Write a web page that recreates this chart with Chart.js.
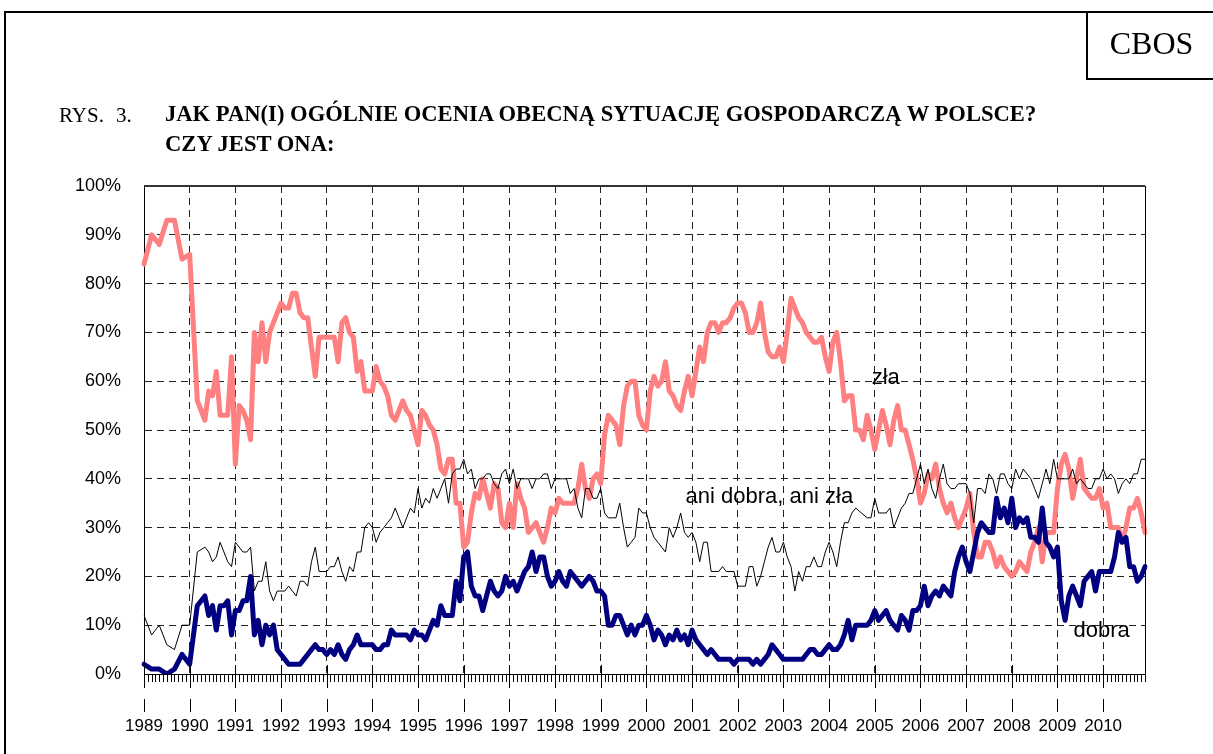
<!DOCTYPE html>
<html>
<head>
<meta charset="utf-8">
<script src="https://cdn.jsdelivr.net/npm/chart.js@4.4.0/dist/chart.umd.min.js"></script>
<style>
  html, body { margin: 0; padding: 0; background: #fff; overflow: hidden; }
  #page { position: relative; width: 1213px; height: 754px; overflow: hidden; }
  #frame { position: absolute; left: 4px; top: 11px; width: 1300px; height: 900px; border: 2px solid #000; }
  #cbos { position: absolute; left: 1086px; top: 11px; width: 200px; height: 67px;
          border-left: 2px solid #000; border-bottom: 2px solid #000; }
  #cbos span { position: absolute; left: 0; width: 127px; top: 14px; text-align: center;
               font: 32px "Liberation Serif", "Times New Roman", serif; }
  .t { position: absolute; font-family: "Liberation Serif", "Times New Roman", serif; font-size: 21px; white-space: nowrap; }
  .b { font-weight: bold; font-size: 22.6px; }
  #wrap { position: absolute; left: 0; top: 0; width: 1213px; height: 754px; }
</style>
</head>
<body>
<div id="page">
  <div id="wrap"><canvas id="chart"></canvas></div>
  <div id="frame"></div>
  <div id="cbos"><span>CBOS</span></div>
  <div class="t" style="left:59px; top:103px;">RYS.</div>
  <div class="t" style="left:116px; top:103px;">3.</div>
  <div class="t b" style="left:165px; top:101px;">JAK PAN(I) OGÓLNIE OCENIA OBECNĄ SYTUACJĘ GOSPODARCZĄ W POLSCE?</div>
  <div class="t b" style="left:165px; top:131px;">CZY JEST ONA:</div>
</div>
<script>
// monthly survey readings, Jan 1989 - Dec 2010 (months without a survey = null)
const years = [1989, 1990, 1991, 1992, 1993, 1994, 1995, 1996, 1997, 1998, 1999,
               2000, 2001, 2002, 2003, 2004, 2005, 2006, 2007, 2008, 2009, 2010];
const months = years.flatMap(yr => ['01','02','03','04','05','06','07','08','09','10','11','12'].map(m => yr + '-' + m));

const zla = [
  84, null, 90, null, 88, null, 93, null, 93, null, 85, null,
  86, null, 56, null, 52, 58, 57, 62, 53, 53, 53, 65,
  43, 55, 54, 52, 48, 70, 64, 72, 64, 70, 72, 74,
  76, 75, 75, 78, 78, 74, 73, 73, 67, 61, 69, 69,
  69, 69, 69, 64, 72, 73, 70, 69, 62, 64, 58, 58,
  58, 63, 60, 59, 57, 53, 52, 54, 56, 54, 53, 50,
  47, 54, 53, 51, 50, 47, 42, 41, 44, 44, 35, 35,
  26, 27, 33, 37, 36, 40, 37, 34, 39, 38, 31, 30,
  35, 30, 39, 36, 34, 29, 30, 31, 29, 27, 30, 34,
  33, 36, 35, 35, 35, 35, 38, 43, 38, 36, 40, 41,
  39, 49, 53, 52, 51, 47, 55, 59, 60, 60, 53, 51,
  50, 58, 61, 59, 60, 64, 58, 57, 55, 54, 58, 61,
  57, 62, 67, 64, 70, 72, 72, 70, 72, 72, 73, 75,
  76, 76, 74, 70, 70, 72, 76, 70, 66, 65, 65, 67,
  64, 70, 77, 75, 73, 72, 70, 69, 68, 68, 69, 65,
  62, 68, 70, 64, 56, 57, 57, 50, 50, 48, 53, 50,
  46, 50, 54, 51, 47, 52, 55, 50, 50, 47, 44, 40,
  35, 37, 41, 40, 43, 38, 35, 33, 35, 32, 30, 32,
  34, 37, 29, 24, 24, 27, 27, 25, 22, 24, 22, 21,
  20, 21, 23, 22, 21, 25, 27, 30, 23, 29, 29, 29,
  38, 43, 45, 42, 36, 40, 44, 38, 37, 36, 36, 38,
  34, 35, 30, 30, 30, 27, 30, 34, 34, 36, 33, 29
];

const dobra = [
  2, null, 1, null, 1, null, 0, null, 1, null, 4, null,
  2, null, 14, null, 16, 12, 14, 9, 14, 14, 15, 8,
  13, 13, 15, 15, 20, 8, 11, 6, 10, 8, 10, 5,
  4, 3, 2, 2, 2, 2, 3, 4, 5, 6, 5, 5,
  4, 5, 4, 6, 4, 3, 5, 6, 8, 6, 6, 6,
  6, 5, 5, 6, 6, 9, 8, 8, 8, 8, 7, 9,
  8, 8, 7, 9, 11, 10, 14, 12, 12, 12, 19, 15,
  24, 25, 18, 16, 16, 13, 16, 19, 17, 16, 17, 20,
  18, 19, 17, 19, 21, 22, 25, 21, 24, 24, 20, 18,
  19, 21, 19, 18, 21, 20, 19, 18, 19, 20, 19, 17,
  17, 16, 10, 10, 12, 12, 10, 8, 10, 8, 10, 10,
  12, 10, 7, 9, 8, 6, 8, 7, 9, 7, 8, 6,
  9, 7, 6, 5, 4, 5, 4, 3, 3, 3, 3, 2,
  3, 3, 3, 3, 2, 3, 2, 3, 4, 6, 5, 4,
  3, 3, 3, 3, 3, 3, 4, 5, 5, 4, 4, 5,
  6, 5, 5, 6, 8, 11, 7, 10, 10, 10, 10, 11,
  13, 11, 12, 13, 11, 10, 9, 12, 11, 9, 13, 13,
  14, 18, 14, 16, 17, 16, 18, 17, 16, 21, 24, 26,
  23, 21, 25, 29, 31, 30, 29, 29, 36, 32, 34, 31,
  36, 30, 32, 31, 32, 28, 28, 27, 34, 27, 26, 24,
  26, 15, 11, 16, 18, 16, 14, 19, 20, 21, 17, 21,
  21, 21, 21, 24, 29, 27, 28, 22, 22, 19, 20, 22
];

const ani = [
  12, null, 8, null, 10, null, 6, null, 5, null, 10, null,
  10, null, 25, null, 26, 25, 23, 24, 27, 25, 23, 22,
  27, 26, 25, 25, 26, 17, 19, 19, 23, 17, 15, 17,
  17, 17, 18, 17, 16, 19, 19, 18, 23, 26, 21, 21,
  21, 22, 22, 24, 21, 19, 22, 21, 25, 25, 30, 31,
  30, 27, 29, 30, 31, 32, 34, 32, 30, 32, 34, 33,
  38, 34, 36, 35, 38, 36, 38, 40, 35, 41, 42, 42,
  44, 41, 42, 38, 40, 40, 41, 41, 39, 38, 41, 42,
  39, 42, 38, 40, 40, 40, 38, 40, 40, 41, 41, 38,
  40, 40, 40, 40, 37, 38, 34, 32, 38, 38, 36, 36,
  38, 33, 32, 32, 32, 35, 30, 26, 27, 28, 34, 33,
  33, 30, 28, 27, 26, 25, 30, 28, 30, 33, 29, 28,
  29, 27, 23, 27, 27, 21, 21, 21, 22, 21, 21, 21,
  18, 18, 18, 22, 22, 18, 20, 23, 26, 28, 25, 25,
  27, 24, 22, 17, 21, 19, 22, 22, 24, 22, 22, 25,
  27, 25, 22, 27, 31, 31, 33, 34, null, null, 32, 32,
  36, 33, 33, 33, 34, 30, 32, 34, 35, 37, 37, 40,
  43, 39, 42, 38, 36, 40, 43, 39, 38, 38, 39, 39,
  39, 37, 31, 38, 38, 37, 41, 40, 37, 41, 41, 39,
  38, 42, 40, 42, 41, 40, 38, 36, 39, 42, 39, 44,
  40, 40, 40, 40, 42, 39, 40, 39, 38, 38, 40, 40,
  42, 40, 41, 40, 37, 39, 40, 39, 41, 41, 44, 44
];

const yTicks = [0, 10, 20, 30, 40, 50, 60, 70, 80, 90, 100];

// series labels written inside the plot: [text, month index, value]
const notes = [
  ['zła', 191.2, 59.4],
  ['ani dobra, ani zła', 142.3, 35.1],
  ['dobra', 244.2, 7.6]
];

const SANS = '"Liberation Sans", Arial, sans-serif';

// skipped surveys every other month are joined; a longer hole stays open
const hideLongGaps = {
  borderColor: c => (c.p1DataIndex - c.p0DataIndex > 2 ? 'rgba(0,0,0,0)' : undefined)
};

const extras = {
  id: 'extras',
  afterDraw(chart) {
    const { ctx, chartArea: a, scales: { x, y } } = chart;
    ctx.save();
    ctx.strokeStyle = '#000';
    ctx.lineWidth = 1;
    ctx.beginPath();
    for (let i = 0; i < months.length; i++) {
      const px = Math.round(x.getPixelForValue(i)) + 0.5;
      if (i % 12 === 0) {
        ctx.moveTo(px, a.bottom - 9); ctx.lineTo(px, a.bottom + 14);
        ctx.moveTo(px, a.bottom + 25); ctx.lineTo(px, a.bottom + 38);
      } else {
        ctx.moveTo(px, a.bottom); ctx.lineTo(px, a.bottom + 8);
      }
    }
    const rx = Math.round(a.right) + 0.5;
    ctx.moveTo(rx, a.top); ctx.lineTo(rx, a.bottom);
    ctx.stroke();

    ctx.lineWidth = 2;
    ctx.strokeStyle = '#333';
    ctx.beginPath();
    ctx.moveTo(a.left, a.top); ctx.lineTo(a.right, a.top);
    ctx.stroke();

    ctx.fillStyle = '#000';
    ctx.font = '22px ' + SANS;
    ctx.textBaseline = 'alphabetic';
    ctx.textAlign = 'left';
    notes.forEach(([t, m, v]) => ctx.fillText(t, x.getPixelForValue(m), y.getPixelForValue(v)));
    ctx.restore();
  }
};

new Chart(document.getElementById('chart'), {
  type: 'line',
  data: {
    labels: months,
    datasets: [
      { label: 'ani dobra, ani zła', data: ani, borderColor: '#000', borderWidth: 1, segment: hideLongGaps },
      { label: 'dobra', data: dobra, borderColor: '#000080', borderWidth: 5 },
      { label: 'zła', data: zla, borderColor: '#ff8080', borderWidth: 5 }
    ]
  },
  options: {
    responsive: true,
    maintainAspectRatio: false,
    animation: false,
    spanGaps: true,
    layout: { padding: { top: 186, right: 68, left: 0, bottom: 0 } },
    elements: {
      point: { radius: 0 },
      line: { tension: 0, borderJoinStyle: 'round', borderCapStyle: 'round', fill: false }
    },
    plugins: { legend: { display: false }, tooltip: { enabled: false } },
    scales: {
      x: {
        type: 'category',
        offset: false,
        afterFit(s) { s.height = 80; },
        border: { display: true, color: '#000', width: 1, dash: [7, 5] },
        grid: {
          drawTicks: false,
          lineWidth: 1,
          color: c => (c.index > 0 && c.index % 12 === 0) ? '#222' : 'rgba(0,0,0,0)'
        },
        ticks: {
          autoSkip: false,
          maxRotation: 0,
          minRotation: 0,
          padding: 42,
          color: '#000',
          font: { family: SANS, size: 17 },
          callback(v, i) { return i % 12 === 0 ? months[i].slice(0, 4) : ''; }
        }
      },
      y: {
        min: 0,
        max: 100,
        afterFit(s) { s.width = 144; },
        afterBuildTicks(s) { s.ticks = yTicks.map(v => ({ value: v })); },
        border: { display: true, color: '#000', width: 1, dash: [7, 5] },
        grid: {
          drawTicks: false,
          lineWidth: 1,
          color: c => (c.tick.value > 0 && c.tick.value < 100) ? '#222' : 'rgba(0,0,0,0)'
        },
        ticks: {
          padding: 23,
          color: '#000',
          font: { family: SANS, size: 18 },
          callback: v => v + '%'
        }
      }
    }
  },
  plugins: [extras]
});
</script>
</body>
</html>
